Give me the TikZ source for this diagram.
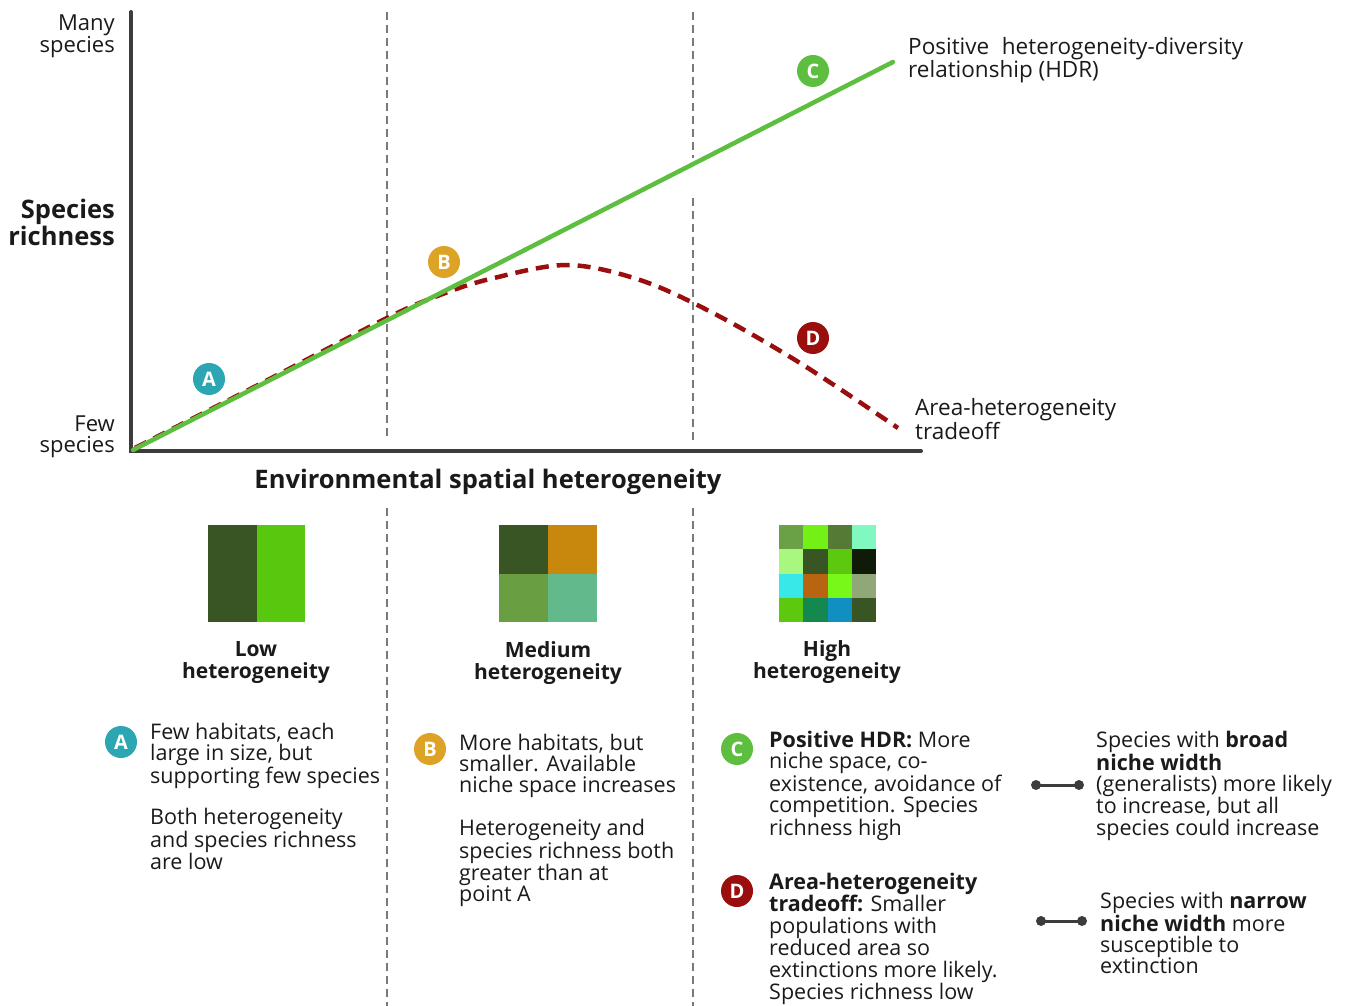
\documentclass[tikz,border=0pt]{standalone}
\usepackage{fontspec}
\setmainfont{Open Sans}
\definecolor{txt}{HTML}{1A1A1A}
\definecolor{axisgray}{HTML}{3C3C3C}
\definecolor{dashgray}{HTML}{7A7A7A}
\definecolor{hdrgreen}{HTML}{5DBE3F}
\definecolor{tradered}{HTML}{9A0E0E}
\definecolor{tealA}{HTML}{2BA6B2}
\definecolor{goldB}{HTML}{DDA327}
\definecolor{g1}{HTML}{3A5524}
\definecolor{g2}{HTML}{58C80E}
\definecolor{m2}{HTML}{C8880E}
\definecolor{m3}{HTML}{6A9E42}
\definecolor{m4}{HTML}{62BA8C}
\definecolor{h11}{HTML}{6AA046}
\definecolor{h12}{HTML}{73F015}
\definecolor{h13}{HTML}{547A36}
\definecolor{h14}{HTML}{80F8C0}
\definecolor{h21}{HTML}{A8F880}
\definecolor{h22}{HTML}{3A5524}
\definecolor{h23}{HTML}{5CC80E}
\definecolor{h24}{HTML}{101A08}
\definecolor{h31}{HTML}{38E8E8}
\definecolor{h32}{HTML}{B86410}
\definecolor{h33}{HTML}{78F818}
\definecolor{h34}{HTML}{90A878}
\definecolor{h41}{HTML}{5CC80E}
\definecolor{h42}{HTML}{158850}
\definecolor{h43}{HTML}{1090C0}
\definecolor{h44}{HTML}{3A5524}
\begin{document}
\begin{tikzpicture}[x=1pt,y=-1pt,
  every node/.style={inner sep=0pt, text=txt},
  body/.style={font=\fontsize{21.5}{21.3}\selectfont, align=left, anchor=base west},
  graphlabel/.style={font=\fontsize{22.5}{21}\selectfont, align=left, anchor=base west},
  axlabel/.style={font=\fontsize{22}{21}\selectfont, align=right, anchor=base east},
  biglabel/.style={font=\bfseries\fontsize{25.5}{25}\selectfont},
  sqlabel/.style={font=\bfseries\fontsize{21}{21.3}\selectfont, align=center, anchor=base},
  badge/.style={circle, minimum size=32pt, text=white, font=\bfseries\fontsize{20}{20}\selectfont},
  vdash/.style={draw=dashgray, line width=2.8pt, dash pattern=on 8pt off 5pt},
  axis/.style={draw=axisgray, line width=4pt, line cap=round},
  bell/.style={draw=axisgray, line width=3pt}
]
\useasboundingbox (0,0) rectangle (1353,1006);

% vertical dashed separators
\coordinate (v1t) at (387,12);  \coordinate (v1b) at (387,440);
\coordinate (v2t) at (693,12);  \coordinate (v2m) at (693,158);
\coordinate (v2n) at (693,198); \coordinate (v2b) at (693,440);
\draw[vdash] (v1t) -- (v1b);
\draw[vdash] (v2t) -- (v2m);
\draw[vdash] (v2n) -- (v2b);
\coordinate (w1t) at (387,508); \coordinate (w1b) at (387,1006);
\coordinate (w2t) at (693,508); \coordinate (w2b) at (693,1006);
\draw[vdash] (w1t) -- (w1b);
\draw[vdash] (w2t) -- (w2b);

% axes
\coordinate (origin) at (131,451);
\coordinate (ytop) at (131,12);
\coordinate (xend) at (921,451);
\draw[axis] (ytop) -- (origin) -- (xend);

% trade-off curve
\draw[tradered, line width=4.5pt, dash pattern=on 13pt off 8pt]
  plot[smooth, tension=0.55] coordinates {(135,448) (260,384) (387,318) (440,295) (490,279) (567,265) (640,280) (713,313) (800,363) (898,428)};

% positive HDR line
\coordinate (g0) at (133,450);
\coordinate (g1) at (893,62);
\draw[hdrgreen, line width=4.5pt, line cap=round] (g0) -- (g1);

% badges on graph
\node[badge, fill=tealA]    (bA) at (209,379) {A};
\node[badge, fill=goldB]    (bB) at (444,262) {B};
\node[badge, fill=hdrgreen] (bC) at (813,71)  {C};
\node[badge, fill=tradered] (bD) at (813,338) {D};

% axis labels (base anchor = last line)
\node[axlabel] (many) at (115,53) {Many\\species};
\node[axlabel] (few) at (115,452) {Few\\species};
\node[biglabel, align=right, anchor=base east] (yl) at (115,245) {Species\\richness};
\node[biglabel, anchor=base] (xl) at (488,488) {Environmental spatial heterogeneity};

\node[graphlabel] (hdr) at (908,78) {Positive\hspace{0.3em} heterogeneity-diversity\\relationship (HDR)};
\node[graphlabel] (aht) at (915,439) {Area-heterogeneity\\tradeoff};

% habitat squares
\fill[g1] (208,525) rectangle (256.5,622);
\fill[g2] (256.5,525) rectangle (305,622);
\fill[g1] (499,525) rectangle (548,573.5);
\fill[m2] (548,525) rectangle (597,573.5);
\fill[m3] (499,573.5) rectangle (548,622);
\fill[m4] (548,573.5) rectangle (597,622);
\foreach \r in {1,...,4}{
  \foreach \c in {1,...,4}{
    \fill[h\r\c] ({779+24.25*(\c-1)},{525+24.25*(\r-1)}) rectangle ({779+24.25*\c},{525+24.25*\r});
  }
}

\node[sqlabel] (low) at (256,678) {Low\\heterogeneity};
\node[sqlabel] (med) at (548,679) {Medium\\heterogeneity};
\node[sqlabel] (high) at (827,678) {High\\heterogeneity};

% explanation badges
\node[badge, fill=tealA]    (eA) at (121,742) {A};
\node[badge, fill=goldB]    (eB) at (430,749) {B};
\node[badge, fill=hdrgreen] (eC) at (737,749) {C};
\node[badge, fill=tradered] (eD) at (737,891) {D};

\node[body] (tA1) at (150,783.6) {Few habitats, each\\large in size, but\\supporting few species};
\node[body] (tA2) at (150,869.6) {Both heterogeneity\\and species richness\\are low};
\node[body] (tB1) at (459,792.6) {More habitats, but\\smaller. Available\\niche space increases};
\node[body] (tB2) at (459,901.9) {Heterogeneity and\\species richness both\\greater than at\\point A};
\node[body] (tC) at (769,835.2) {\textbf{Positive HDR:} More\\niche space, co-\\existence, avoidance of\\competition. Species\\richness high};
\node[body] (tD) at (769,999.5) {\textbf{Area-heterogeneity}\\\textbf{tradeoff:} Smaller\\populations with\\reduced area so\\extinctions more likely.\\Species richness low};
\node[body] (tR1) at (1096,835.2) {Species with \textbf{broad}\\\textbf{niche width}\\(generalists) more likely\\to increase, but all\\species could increase};
\node[body] (tR2) at (1100,973.9) {Species with \textbf{narrow}\\\textbf{niche width} more\\susceptible to\\extinction};

% dumbbell connectors
\coordinate (d1a) at (1036,785); \coordinate (d1b) at (1079,785);
\coordinate (d2a) at (1041,921); \coordinate (d2b) at (1082,921);
\draw[bell] (d1a) -- (d1b);
\draw[bell] (d2a) -- (d2b);
\fill[axisgray] (d1a) circle (5pt) (d1b) circle (5pt) (d2a) circle (5pt) (d2b) circle (5pt);
\end{tikzpicture}
\end{document}
